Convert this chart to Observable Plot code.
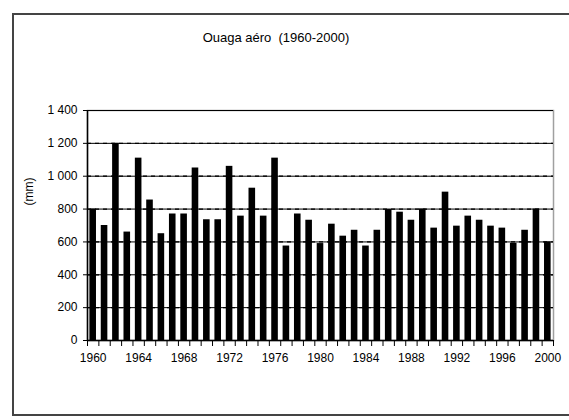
<!DOCTYPE html>
<html>
<head>
<meta charset="utf-8">
<script src="https://cdn.jsdelivr.net/npm/d3@7"></script>
<script src="https://cdn.jsdelivr.net/npm/@observablehq/plot@0.6"></script>
<style>
  html, body { margin: 0; padding: 0; background: #fff; }
  #wrap { position: relative; width: 569px; height: 420px; overflow: hidden; font-family: "Liberation Sans", Arial, sans-serif; }
  #border { position: absolute; left: 12px; top: 13px; width: 600px; height: 403px; border: 2px solid #444; box-sizing: border-box; }
  #title { position: absolute; top: 30px; left: 0; width: 552px; text-align: center; font-size: 13px; color: #000; white-space: pre; }
  #chart { position: absolute; left: 0; top: 0; }
  #chart svg .grid line { stroke-dasharray: 4 4; }
</style>
</head>
<body>
<div id="wrap">
  <div id="border"></div>
  <div id="title">Ouaga aéro  (1960-2000)</div>
  <div id="chart"></div>
</div>
<script>
const years = [1960,1961,1962,1963,1964,1965,1966,1967,1968,1969,
               1970,1971,1972,1973,1974,1975,1976,1977,1978,1979,
               1980,1981,1982,1983,1984,1985,1986,1987,1988,1989,
               1990,1991,1992,1993,1994,1995,1996,1997,1998,1999,2000];
const rainfall = [800,700,1200,660,1110,855,650,770,770,1050,
                  735,735,1060,757,927,757,1110,575,770,732,
                  590,708,635,671,575,671,797,781,732,800,
                  684,903,696,757,732,696,684,592,671,800,600];
const yTicks = [0,200,400,600,800,1000,1200,1400];
const gridLevels = [200,400,600,800,1000,1200];
const xLabelYears = [1960,1964,1968,1972,1976,1980,1984,1988,1992,1996,2000];
const yDomain = [0,1400];
const xDomain = [1959.5, 2000.5];
const boundaries = d3.range(years.length + 1).map(i => years[0] - 0.5 + i);

const data = years.map((y, i) => ({year: y, value: rainfall[i]}));
const fmt = d3.formatLocale({decimal: ",", thousands: " ", grouping: [3], currency: ["", ""]}).format(",d");
const half = 0.29;

const plot = Plot.plot({
  width: 569,
  height: 420,
  marginLeft: 87,
  marginRight: 16,
  marginTop: 110,
  marginBottom: 80,
  style: {fontFamily: "'Liberation Sans', Arial, sans-serif", fontSize: "12px", background: "transparent", overflow: "visible", color: "#000"},
  x: {domain: xDomain, axis: null},
  y: {domain: yDomain, axis: null},
  marks: [
    Plot.frame({stroke: "#a0a0a0", strokeWidth: 1.5}),
    Plot.ruleY(gridLevels, {stroke: "#000", strokeDasharray: "4 4", strokeWidth: 1.2, className: "grid"}),
    Plot.rectY(data, {x1: d => d.year - half, x2: d => d.year + half, y: "value", fill: "#000"}),
    Plot.ruleY([yDomain[0]], {stroke: "#000", strokeWidth: 1.5}),
    Plot.ruleX([xDomain[0]], {stroke: "#000", strokeWidth: 1.5}),
    Plot.axisY({ticks: yTicks, tickSize: 4, tickPadding: 6, tickFormat: fmt, label: null, fontSize: 12}),
    Plot.tickY(yTicks, {y: d => d, frameAnchor: "left"}),
    Plot.axisX({ticks: boundaries, tickSize: 6, tickFormat: () => "", label: null}),
    Plot.axisX({ticks: xLabelYears, tickSize: 0, tickPadding: 13, tickFormat: d => String(d), label: null, fontSize: 12}),
    Plot.text(["(mm)"], {frameAnchor: "left", rotate: -90, dx: -58, dy: -20, fontSize: 12, fill: "#000"})
  ]
});
document.getElementById("chart").appendChild(plot);
</script>
</body>
</html>
